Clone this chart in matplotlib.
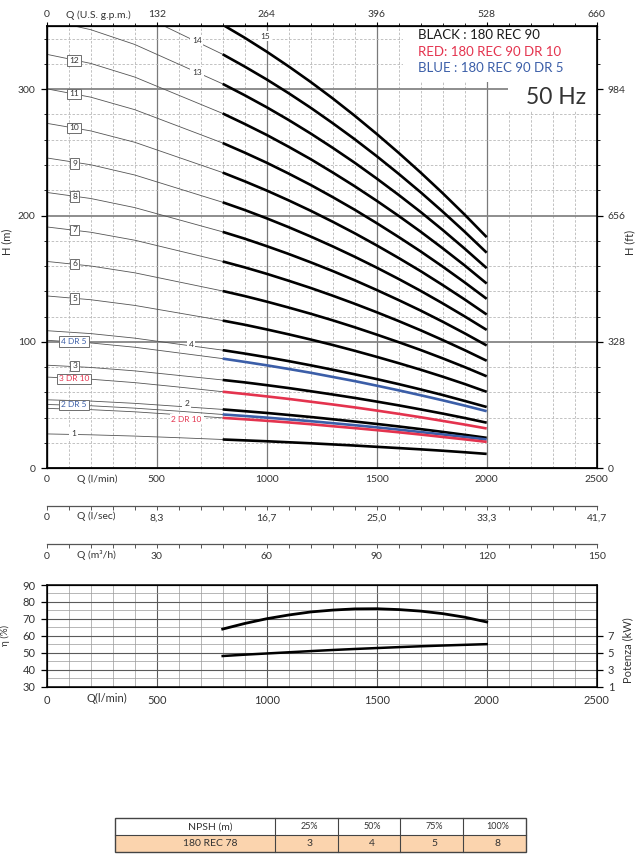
import matplotlib
matplotlib.use('Agg')
import matplotlib.pyplot as plt
from matplotlib.patches import Rectangle
from matplotlib.ticker import MultipleLocator

plt.rcParams['font.family'] = ['Lato', 'DejaVu Sans']

# --- data -------------------------------------------------------------
# flow points (l/min); the first five are the thin extension, from 800 on the thick curve
q = [0, 200, 400, 600, 800, 900, 1000, 1100, 1200, 1300, 1400,
     1500, 1600, 1700, 1800, 1900, 2000]

h01 = [27.2, 26.5, 25.5, 24.2, 22.8, 22.1, 21.4, 20.6, 19.8, 18.9, 18.0, 17.0, 16.0, 15.0, 13.9, 12.7, 11.4]
h02 = [54.2, 53.2, 51.4, 49.0, 46.6, 45.2, 43.8, 42.2, 40.6, 38.8, 37.0, 35.1, 33.1, 31.0, 28.8, 26.5, 24.1]
h03 = [81.6, 79.8, 77.1, 73.5, 69.9, 68.0, 65.8, 63.5, 61.0, 58.4, 55.7, 52.8, 49.8, 46.6, 43.3, 39.8, 36.1]
h04 = [108.9, 106.6, 103.0, 98.2, 93.5, 90.8, 87.9, 84.8, 81.5, 78.0, 74.4, 70.6, 66.6, 62.4, 58.0, 53.3, 48.5]
h05 = [136.4, 133.4, 128.9, 122.9, 116.9, 113.6, 109.9, 106.0, 101.9, 97.6, 93.0, 88.2, 83.2, 78.0, 72.5, 66.7, 60.5]
h06 = [163.7, 160.1, 154.7, 147.5, 140.3, 136.3, 131.9, 127.2, 122.3, 117.1, 111.6, 105.8, 99.8, 93.6, 87.0, 80.1, 72.8]
h07 = [191.0, 186.8, 180.5, 172.1, 163.7, 159.0, 153.9, 148.4, 142.7, 136.6, 130.2, 123.5, 116.5, 109.2, 101.5, 93.5, 85.1]
h08 = [218.3, 213.5, 206.3, 196.7, 187.1, 181.7, 175.8, 169.6, 163.0, 156.1, 148.8, 141.1, 133.1, 124.8, 116.0, 106.8, 97.2]
h09 = [245.6, 240.2, 232.1, 221.3, 210.5, 204.4, 197.8, 190.8, 183.4, 175.6, 167.4, 158.8, 149.8, 140.4, 130.5, 120.2, 109.5]
h10 = [273.0, 267.0, 258.0, 246.0, 234.0, 227.1, 219.8, 212.0, 203.8, 195.1, 186.0, 176.4, 166.4, 156.0, 145.0, 133.6, 121.7]
h11 = [300.3, 293.7, 283.8, 270.6, 257.4, 249.8, 241.8, 233.2, 224.2, 214.6, 204.6, 194.0, 183.0, 171.6, 159.6, 147.1, 134.1]
h12 = [327.6, 320.4, 309.6, 295.2, 280.8, 272.5, 263.8, 254.4, 244.6, 234.1, 223.2, 211.7, 199.7, 187.2, 174.1, 160.5, 146.2]
h13 = [354.9, 347.1, 335.4, 319.8, 304.2, 295.2, 285.7, 275.6, 264.9, 253.6, 241.8, 229.3, 216.3, 202.8, 188.6, 173.8, 158.4]
h14 = [382.2, 373.8, 361.2, 344.4, 327.6, 317.9, 307.7, 296.8, 285.3, 273.1, 260.4, 247.0, 233.0, 218.4, 203.1, 187.2, 170.6]
h15 = [409.5, 400.5, 387.0, 369.0, 351.0, 340.7, 329.7, 318.0, 305.7, 292.7, 279.0, 264.6, 249.6, 234.0, 217.7, 200.7, 182.9]

h2_dr5 = [50.5, 49.5, 47.6, 45.2, 42.6, 41.4, 40.1, 38.7, 37.3, 35.7, 34.1, 32.4, 30.6, 28.7, 26.8, 24.8, 22.8]
h2_dr10 = [47.4, 46.4, 44.7, 42.4, 39.9, 38.8, 37.6, 36.3, 34.9, 33.3, 31.8, 30.2, 28.5, 26.7, 24.8, 22.9, 20.9]
h3_dr10 = [72.2, 70.5, 67.8, 64.3, 60.6, 58.8, 56.9, 54.9, 52.7, 50.5, 48.2, 45.7, 43.1, 40.4, 37.5, 34.6, 31.5]
h4_dr5 = [101.3, 99.2, 95.8, 91.3, 86.8, 84.2, 81.5, 78.6, 75.6, 72.3, 69.0, 65.4, 61.7, 57.8, 53.8, 49.6, 45.2]

q_eff = [800, 900, 1000, 1100, 1200, 1300, 1400, 1500, 1600, 1700, 1800, 1900, 2000]
eff = [64.0, 67.3, 70.1, 72.3, 74.1, 75.2, 75.9, 76.0, 75.5, 74.6, 73.1, 71.0, 68.2]
power = [4.62, 4.78, 4.92, 5.06, 5.20, 5.33, 5.45, 5.56, 5.67, 5.77, 5.86, 5.94, 6.02]

q_ticks = [0, 500, 1000, 1500, 2000, 2500]
gpm_labels = ['0', '132', '264', '396', '528', '660']
lsec_labels = ['0', '8,3', '16,7', '25,0', '33,3', '41,7']
m3h_labels = ['0', '30', '60', '90', '120', '150']
h_ticks = [0, 100, 200, 300]
ft_labels = ['0', '328', '656', '984']
kw_ticks = [1, 3, 5, 7]

npsh_head = ['25%', '50%', '75%', '100%']
npsh_vals = ['3', '4', '5', '8']
npsh_model = '180 REC 78'

RED = '#e4334e'
BLUE = '#3b5ea8'
TXT = '#333333'

W, H = 641, 859


def box(x0, y0, x1, y1):
    return [x0 / W, 1 - y1 / H, (x1 - x0) / W, (y1 - y0) / H]


fig = plt.figure(figsize=(W / 100, H / 100), dpi=100)

# --- main H-Q chart ---------------------------------------------------
ax = fig.add_axes(box(46.7, 26, 596.7, 468.3))
ax.set_xlim(0, 2500)
ax.set_ylim(0, 350)
ax.xaxis.set_major_locator(MultipleLocator(500))
ax.xaxis.set_minor_locator(MultipleLocator(100))
ax.set_yticks(h_ticks)
ax.yaxis.set_minor_locator(MultipleLocator(20))
ax.set_axisbelow(True)
ax.grid(which='major', axis='x', color='#7a7a7a', lw=0.9)
ax.grid(which='major', axis='y', color='#858585', lw=1.3)
ax.grid(which='minor', color='#b8b8b8', lw=0.6, ls=(0, (3, 2)))
for s in ax.spines.values():
    s.set_linewidth(1.2)
ax.set_xticks(q_ticks)
ax.set_xticklabels([str(v) for v in q_ticks])
ax.tick_params(axis='x', which='both', length=0, pad=5, labelsize=7.5, labelcolor=TXT)
ax.tick_params(axis='y', which='major', direction='out', length=4, width=0.9,
               labelsize=7.5, pad=4, labelcolor=TXT)
ax.tick_params(axis='y', which='minor', direction='out', length=2.5, width=0.6)

axt = ax.twiny()
axt.set_xlim(0, 2500)
axt.set_xticks(q_ticks)
axt.set_xticklabels(gpm_labels)
axt.xaxis.set_minor_locator(MultipleLocator(100))
axt.tick_params(which='major', direction='out', length=3, width=0.8, labelsize=7.5,
                pad=2, labelcolor=TXT)
axt.tick_params(which='minor', direction='out', length=2.5, width=0.6)

axr = ax.twinx()
axr.set_ylim(0, 350)
axr.set_yticks(h_ticks)
axr.set_yticklabels(ft_labels)
axr.yaxis.set_minor_locator(MultipleLocator(20))
axr.tick_params(which='major', direction='out', length=4, width=0.9, labelsize=7.5,
                pad=4, labelcolor=TXT)
axr.tick_params(which='minor', direction='out', length=2.5, width=0.6)

# white areas behind legend text and 50 Hz
ax.add_patch(Rectangle((1620, 305.6), 900, 50, fc='white', ec='none', zorder=1))
ax.add_patch(Rectangle((2096, 282.7), 420, 25, fc='white', ec='none', zorder=1))

curves = [(h, 'black') for h in [h01, h02, h03, h04, h05, h06, h07, h08,
                                 h09, h10, h11, h12, h13, h14, h15]]
curves += [(h4_dr5, BLUE), (h2_dr5, BLUE), (h3_dr10, RED), (h2_dr10, RED)]
for h, c in curves:
    ax.plot(q[:5], h[:5], color='#555555', lw=0.6, zorder=2)
for h, c in curves:
    ax.plot(q[4:], h[4:], color=c, lw=1.9, zorder=3, solid_capstyle='butt',
            solid_joinstyle='round')

# curve labels: text, Q, H, colour, framed
tags = [('12', 124, 322.9, TXT, True), ('11', 124, 296.2, TXT, True),
        ('10', 124, 269.3, TXT, True), ('9', 127, 241.4, TXT, True),
        ('8', 127, 214.9, TXT, True), ('7', 127, 188.6, TXT, True),
        ('6', 127, 161.7, TXT, True), ('5', 127, 134.5, TXT, True),
        ('4 DR 5', 124, 100.2, BLUE, True), ('3', 127, 81.0, TXT, True),
        ('3 DR 10', 124, 70.7, RED, True), ('2 DR 5', 124, 50.1, BLUE, True),
        ('1', 121, 27.7, TXT, False), ('4', 655, 98.1, TXT, False),
        ('2', 636, 51.4, TXT, False), ('2 DR 10', 636, 39.0, RED, False),
        ('13', 683, 313.0, TXT, False), ('14', 682, 338.4, TXT, False),
        ('15', 992, 342.0, TXT, False)]
for t, x, y, c, framed in tags:
    bb = dict(boxstyle='square,pad=0.22', fc='white',
              ec='#6e6e6e' if framed else 'none', lw=0.7)
    ax.text(x, y, t, color=c, fontsize=6, ha='center', va='center',
            bbox=bb, zorder=5)

# --- extra flow scales -------------------------------------------------
for y_line, labels in [(505.7, lsec_labels), (544.3, m3h_labels)]:
    a = fig.add_axes(box(46.7, y_line - 1, 596.7, y_line))
    a.set_xlim(0, 2500)
    a.set_yticks([])
    a.patch.set_visible(False)
    for k in ['left', 'right', 'top']:
        a.spines[k].set_visible(False)
    a.spines['bottom'].set_color('#555555')
    a.spines['bottom'].set_linewidth(0.9)
    a.set_xticks(q_ticks)
    a.set_xticklabels(labels)
    a.xaxis.set_minor_locator(MultipleLocator(100))
    a.tick_params(which='both', direction='out', length=3, width=0.7,
                  color='#555555', labelsize=7.5, pad=2.5, labelcolor=TXT)

# --- efficiency / power chart ------------------------------------------
ae = fig.add_axes(box(46.7, 585, 596.7, 686.7))
ae.set_xlim(0, 2500)
ae.set_ylim(30, 90)
ae.set_xticks(q_ticks)
ae.set_xticklabels([str(v) for v in q_ticks])
ae.xaxis.set_minor_locator(MultipleLocator(100))
ae.yaxis.set_major_locator(MultipleLocator(10))
ae.yaxis.set_minor_locator(MultipleLocator(5))
ae.set_axisbelow(True)
ae.grid(which='major', color='#5a5a5a', lw=0.8)
ae.grid(which='minor', color='#9a9a9a', lw=0.5)
for s in ae.spines.values():
    s.set_linewidth(1.1)
ae.tick_params(axis='x', which='both', length=0, pad=6, labelsize=8, labelcolor=TXT)
ae.tick_params(axis='y', which='major', direction='out', length=4, width=0.9,
               labelsize=8, pad=4, labelcolor=TXT)
ae.tick_params(axis='y', which='minor', length=0)
ae.plot(q_eff, eff, color='black', lw=2.0, zorder=3, solid_joinstyle='round')

aer = ae.twinx()
aer.set_ylim(1, 13)
aer.set_yticks(kw_ticks)
aer.tick_params(direction='out', length=4, width=0.9, labelsize=8, pad=4,
                labelcolor=TXT)
aer.plot(q_eff, power, color='black', lw=1.8, zorder=3, solid_joinstyle='round')

# --- overlay for free text and table -----------------------------------
ov = fig.add_axes([0, 0, 1, 1])
ov.set_xlim(0, W)
ov.set_ylim(H, 0)
ov.axis('off')

ov.text(7, 242, 'H (m)', rotation=90, fontsize=8, color=TXT, ha='center', va='center')
ov.text(630, 242, 'H (ft)', rotation=90, fontsize=8, color=TXT, ha='center', va='center')
ov.text(98, 15.7, 'Q (U.S. g.p.m.)', fontsize=7.5, color=TXT, ha='center', va='center')
ov.text(97.7, 479, 'Q (l/min)', fontsize=7.5, color=TXT, ha='center', va='center')
ov.text(96.7, 516, 'Q (l/sec)', fontsize=7.5, color=TXT, ha='center', va='center')
ov.text(96.3, 555, 'Q (m³/h)', fontsize=7.5, color=TXT, ha='center', va='center')
ov.text(107, 698.3, 'Q(l/min)', fontsize=8, color=TXT, ha='center', va='center')
ov.text(5, 635, 'η (%)', rotation=90, fontsize=7, color=TXT, ha='center', va='center')
ov.text(628, 650, 'Potenza (kW)', rotation=90, fontsize=8, color=TXT,
        ha='center', va='center')

ov.text(417.7, 35, 'BLACK : 180 REC 90', fontsize=9.5, color='#1a1a1a', va='center')
ov.text(417.7, 51.7, 'RED: 180 REC 90 DR 10', fontsize=9.5, color=RED, va='center')
ov.text(417.7, 68.3, 'BLUE : 180 REC 90 DR 5', fontsize=9.5, color=BLUE, va='center')
ov.text(585.7, 97, '50 Hz', fontsize=16.5, color=TXT, ha='right', va='center')

# NPSH table
col_x = [115, 275, 337.7, 400, 462.7, 526]
row_y = [818.3, 835, 851.7]
ov.add_patch(Rectangle((col_x[0], row_y[1]), col_x[-1] - col_x[0], row_y[2] - row_y[1],
                       fc='#fbd4ae', ec='none'))
ov.add_patch(Rectangle((col_x[0], row_y[0]), col_x[-1] - col_x[0], row_y[2] - row_y[0],
                       fc='none', ec='#444444', lw=1.0))
ov.plot([col_x[0], col_x[-1]], [row_y[1], row_y[1]], color='#444444', lw=0.8)
for x in col_x[1:-1]:
    ov.plot([x, x], [row_y[0], row_y[2]], color='#444444', lw=0.8)
ov.text(210, 826.7, 'NPSH (m)', fontsize=7.5, color=TXT, ha='center', va='center')
ov.text(210, 843.3, npsh_model, fontsize=7.5, color=TXT, ha='center', va='center')
for i, (hd, v) in enumerate(zip(npsh_head, npsh_vals)):
    cx = (col_x[i + 1] + col_x[i + 2]) / 2 + 3
    ov.text(cx, 826.7, hd, fontsize=6.5, color=TXT, ha='center', va='center')
    ov.text(cx, 843.3, v, fontsize=7.5, color=TXT, ha='center', va='center')

fig.savefig('out.png', dpi=100)
